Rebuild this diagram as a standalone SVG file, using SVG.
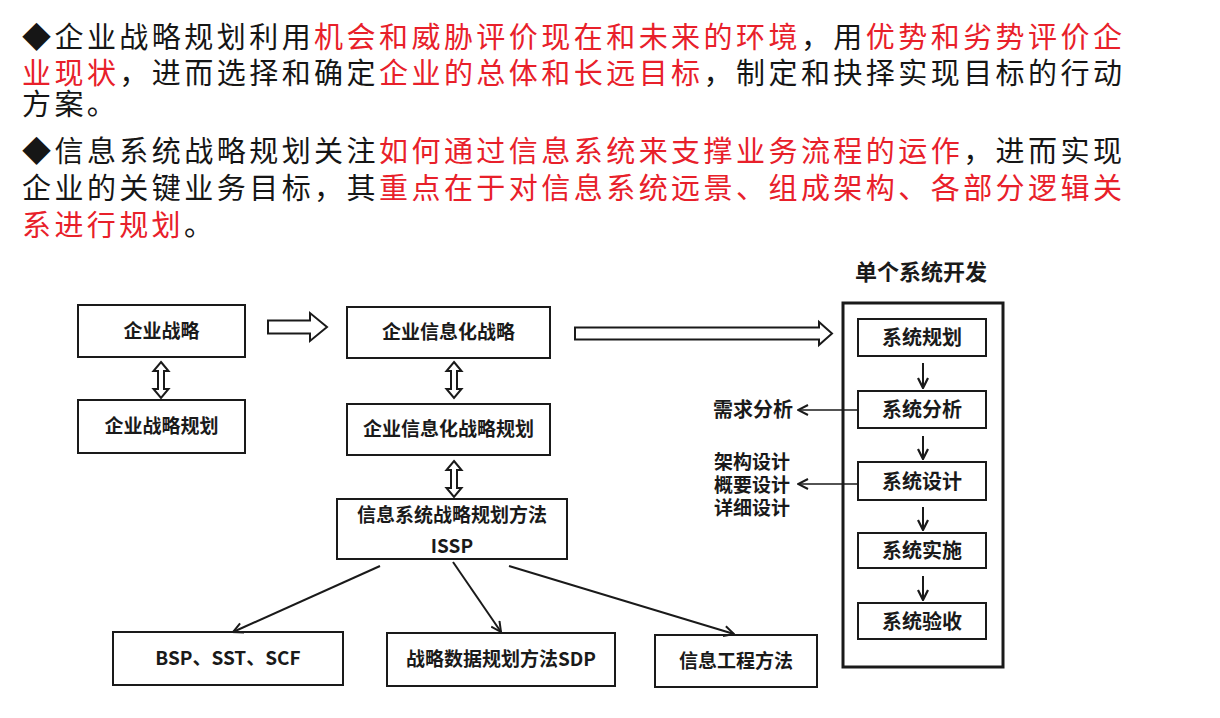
<svg xmlns="http://www.w3.org/2000/svg" width="1220" height="718" viewBox="0 0 1220 718">
<defs>
<style>
.para{font-family:"Noto Sans CJK SC","Noto Sans CJK JP",sans-serif;font-size:29px;fill:#161616}
.red{fill:#e8202a}
.box{fill:#fff;stroke:#1a1a1a;stroke-width:2}
.lbl{font-family:"Noto Sans CJK SC",sans-serif;font-weight:700;font-size:19px;fill:#1a1a1a;text-anchor:middle}
.sys{font-size:20px}
.title{font-size:22px}
.side{font-family:"Noto Sans CJK SC",sans-serif;font-weight:700;font-size:19px;fill:#1a1a1a}
.hollow{fill:#fff;stroke:#1a1a1a;stroke-width:2;stroke-linejoin:miter}
.line{fill:none;stroke:#1a1a1a;stroke-width:2}
.thin{fill:none;stroke:#1a1a1a;stroke-width:1.5}
</style>
<marker id="vhead" viewBox="0 0 12 12" refX="11" refY="6" markerWidth="12" markerHeight="12" markerUnits="userSpaceOnUse" orient="auto">
<path d="M1,1 L11,6 L1,11" fill="none" stroke="#1a1a1a" stroke-width="2"/>
</marker>
<marker id="dhead" viewBox="0 0 12 12" refX="11" refY="6" markerWidth="12" markerHeight="12" markerUnits="userSpaceOnUse" orient="auto">
<path d="M1,1 L11,6 L1,11" fill="none" stroke="#1a1a1a" stroke-width="2.2"/>
</marker>
<path id="dbl" d="M0,0 L7.5,9 L3,9 L3,27 L7.5,27 L0,36 L-7.5,27 L-3,27 L-3,9 L-7.5,9 Z"/>
</defs>
<rect width="1220" height="718" fill="#fff"/>

<g id="paragraph">
<text class="para" x="22" y="48" textLength="1100" lengthAdjust="spacing">◆企业战略规划利用<tspan class="red">机会和威胁评价现在和未来的环境</tspan>，用<tspan class="red">优势和劣势评价企</tspan></text>
<text class="para" x="22" y="84" textLength="1100" lengthAdjust="spacing"><tspan class="red">业现状</tspan>，进而选择和确定<tspan class="red">企业的总体和长远目标</tspan>，制定和抉择实现目标的行动</text>
<text class="para" x="22" y="115" letter-spacing="3.4">方案。</text>
<text class="para" x="22" y="162" textLength="1100" lengthAdjust="spacing">◆信息系统战略规划关注<tspan class="red">如何通过信息系统来支撑业务流程的运作</tspan>，进而实现</text>
<text class="para" x="22" y="199" textLength="1100" lengthAdjust="spacing">企业的关键业务目标，其<tspan class="red">重点在于对信息系统远景、组成架构、各部分逻辑关</tspan></text>
<text class="para" x="22" y="236" letter-spacing="3.4"><tspan class="red">系进行规划</tspan>。</text>
</g>

<g id="n1"><rect class="box" x="78" y="305" width="167" height="52"/><text class="lbl" x="161.5" y="338">企业战略</text></g>
<g id="n2"><rect class="box" x="78" y="400" width="167" height="53"/><text class="lbl" x="161.5" y="433">企业战略规划</text></g>
<g id="n3"><rect class="box" x="347" y="307" width="203" height="51"/><text class="lbl" x="448.5" y="339">企业信息化战略</text></g>
<g id="n4"><rect class="box" x="347" y="404" width="203" height="51"/><text class="lbl" x="448.5" y="436">企业信息化战略规划</text></g>
<g id="n5"><rect class="box" x="337" y="499" width="230" height="60"/><text class="lbl" x="452" y="522">信息系统战略规划方法</text><text class="lbl" x="452" y="553">ISSP</text></g>
<g id="n6"><rect class="box" x="113" y="632" width="230" height="53"/><text class="lbl" x="228" y="665">BSP、SST、SCF</text></g>
<g id="n7"><rect class="box" x="387" y="633" width="228" height="53"/><text class="lbl" x="501" y="666">战略数据规划方法SDP</text></g>
<g id="n8"><rect class="box" x="655" y="635" width="162" height="52"/><text class="lbl" x="736" y="668">信息工程方法</text></g>

<g id="dev">
<text class="lbl title" x="921" y="280">单个系统开发</text>
<rect x="843" y="303" width="160" height="364" fill="none" stroke="#1a1a1a" stroke-width="3"/>
</g>
<g id="s1"><rect class="box" x="858" y="319" width="128" height="37"/><text class="lbl sys" x="922" y="345">系统规划</text></g>
<g id="s2"><rect class="box" x="858" y="391" width="128" height="37"/><text class="lbl sys" x="922" y="417">系统分析</text></g>
<g id="s3"><rect class="box" x="858" y="462" width="128" height="38"/><text class="lbl sys" x="922" y="489">系统设计</text></g>
<g id="s4"><rect class="box" x="858" y="533" width="128" height="35"/><text class="lbl sys" x="922" y="558">系统实施</text></g>
<g id="s5"><rect class="box" x="858" y="603" width="128" height="36"/><text class="lbl sys" x="922" y="629">系统验收</text></g>
<g id="l1"><text class="side" x="713" y="417" font-size="20" style="font-size:20px">需求分析</text></g>
<g id="l2">
<text class="side" x="714" y="469">架构设计</text>
<text class="side" x="714" y="492">概要设计</text>
<text class="side" x="714" y="515">详细设计</text>
</g>

<g id="connectors">
<use href="#dbl" class="hollow" x="161" y="362"/>
<use href="#dbl" class="hollow" x="454" y="362"/>
<use href="#dbl" class="hollow" x="454" y="461"/>
<path class="hollow" d="M268,320.5 H310 V313 L327,327 L310,341 V333.5 H268 Z"/>
<path class="hollow" d="M575,327.5 H819 V322 L832,333.5 L819,345 V339.5 H575 Z"/>
<line class="line" x1="380" y1="566" x2="233" y2="632" marker-end="url(#vhead)"/>
<line class="line" x1="453" y1="562" x2="501" y2="632" marker-end="url(#vhead)"/>
<line class="line" x1="509" y1="566" x2="734" y2="634" marker-end="url(#vhead)"/>
<line class="line" x1="923" y1="363" x2="923" y2="388" marker-end="url(#dhead)"/>
<line class="line" x1="923" y1="436" x2="923" y2="459" marker-end="url(#dhead)"/>
<line class="line" x1="923" y1="507" x2="923" y2="530" marker-end="url(#dhead)"/>
<line class="line" x1="923" y1="576" x2="923" y2="600" marker-end="url(#dhead)"/>
<line class="thin" x1="858" y1="410" x2="798" y2="410" marker-end="url(#vhead)"/>
<line class="thin" x1="858" y1="484" x2="798" y2="484" marker-end="url(#vhead)"/>
</g>
</svg>
